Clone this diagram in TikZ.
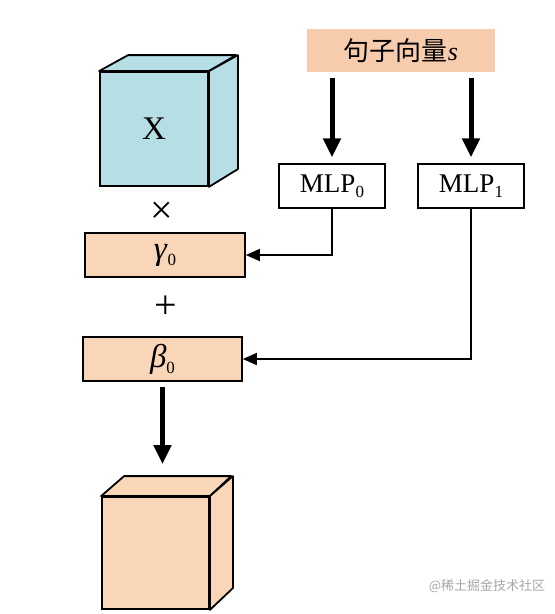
\documentclass[tikz,border=0pt]{standalone}
\usepackage{fontspec}
\setmainfont{Liberation Serif}
\newfontfamily\cjk{Noto Sans CJK SC}
\usetikzlibrary{arrows.meta}
\definecolor{peach}{rgb}{0.97, 0.80, 0.68}
\definecolor{lightpeach}{rgb}{0.98, 0.84, 0.72}
\definecolor{lightblue}{rgb}{0.71, 0.87, 0.90}
\newcommand{\lowidx}[1]{\raisebox{-0.4ex}{\fontsize{17}{17}\selectfont #1}}
\tikzset{
  vecbox/.style={fill=peach, minimum width=188pt, minimum height=43pt, inner sep=0pt, font=\fontsize{26}{26}\selectfont},
  mlpbox/.style={draw, line width=1.3pt, fill=white, minimum width=106pt, minimum height=44pt, inner sep=0pt, font=\fontsize{27}{27}\selectfont},
  parbox/.style={draw, line width=1.6pt, fill=lightpeach, minimum height=44pt, inner sep=0pt, font=\fontsize{33}{33}\selectfont},
  face/.style={draw, line width=1.8pt, inner sep=0pt},
  bigarrow/.style={line width=5pt, -{Triangle[width=17pt,length=19pt]}},
  link/.style={line width=1.4pt, -{Triangle[width=12pt,length=14pt]}}
}

\begin{document}
\begin{tikzpicture}[x=1pt, y=-1pt]
    \useasboundingbox (0,0) rectangle (555,614);

    \node[vecbox] (vec) at (401,50.5) {{\cjk 句子向量}\textit{s}};
    \node[mlpbox] (mlp0) at (332,186) {MLP\lowidx{0}};
    \node[mlpbox] (mlp1) at (471,186) {MLP\lowidx{1}};

    \node[face, fill=lightblue, minimum width=108pt, minimum height=114pt, font=\fontsize{33}{33}\selectfont] (xin) at (154,129) {X};
    \draw [line width=1.8pt, fill=lightblue, line join=round] (xin.north west) -- ++(29,-16) -- ++(108,0) -- (xin.north east) -- cycle;
    \draw [line width=1.8pt, fill=lightblue, line join=round] (xin.north east) -- ++(29,-16) -- ++(0,114) -- (xin.south east) -- cycle;

    \node[font=\fontsize{40}{40}\selectfont] (times) at (162,213) {×};
    \node[parbox, minimum width=160pt] (gamma) at (165,255) {\textit{γ}\lowidx{0}};
    \node[font=\fontsize{40}{40}\selectfont] (plus) at (166,307) {+};
    \node[parbox, minimum width=159pt] (beta) at (162.5,359) {\textit{β}\lowidx{0}};

    \node[face, fill=lightpeach, minimum width=107pt, minimum height=112pt] (yout) at (155.5,553) {};
    \draw [line width=1.8pt, fill=lightpeach, line join=round] (yout.north west) -- ++(23,-20) -- ++(107,0) -- (yout.north east) -- cycle;
    \draw [line width=1.8pt, fill=lightpeach, line join=round] (yout.north east) -- ++(23,-20) -- ++(0,112) -- (yout.south east) -- cycle;

    \draw [bigarrow, shorten <=6pt, shorten >=6pt] (vec.south -| mlp0) -- (mlp0.north);
    \draw [bigarrow, shorten <=6pt, shorten >=6pt] (vec.south -| mlp1) -- (mlp1.north);
    \draw [link] (mlp0.south) |- (gamma.east);
    \draw [link] (mlp1.south) |- (beta.east);
    \draw [bigarrow, shorten <=5pt, shorten >=32pt] (beta.south) -- (beta.south |- yout.north);

    \node[text=black!35, font=\cjk\fontsize{13}{13}\selectfont] (mark) at (487,586) {@稀土掘金技术社区};
\end{tikzpicture}
\end{document}
